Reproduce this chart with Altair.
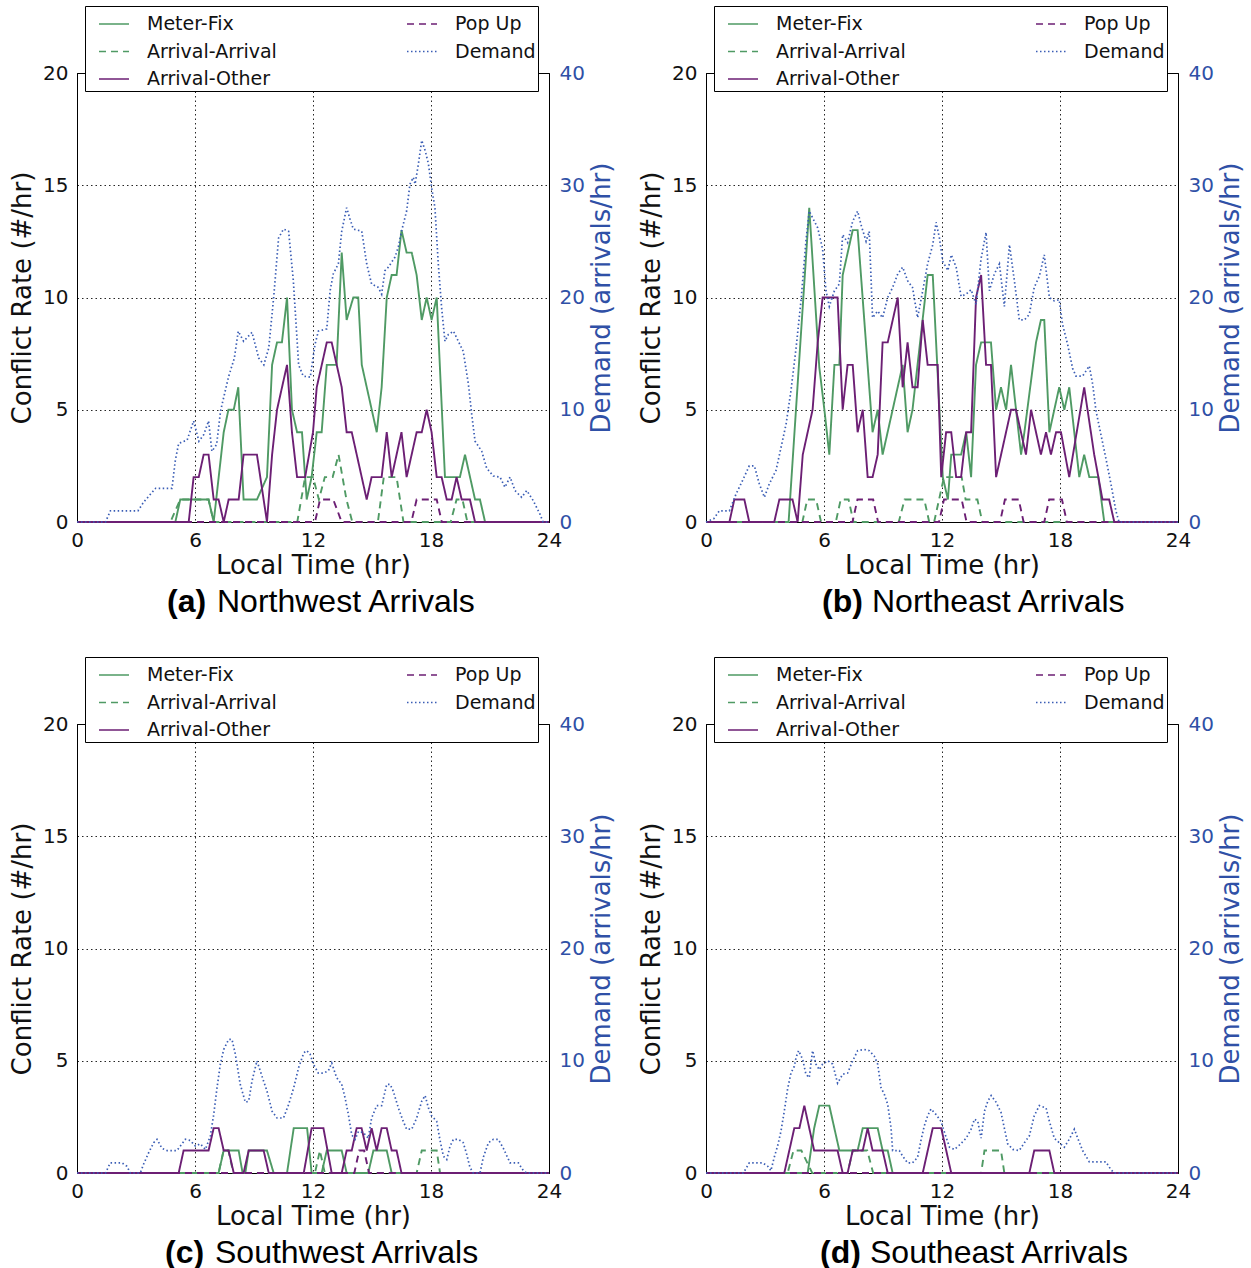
import altair as alt
import pandas as pd

# ---------------- data (hour, value) ----------------
A_MF = [(0,0),(5.0,0),(5.25,1),(6.69,1),(6.95,0),(7.46,4),(7.7,5),(7.97,5),(8.2,6),(8.47,1),(9.15,1),(9.66,2),(9.92,7),(10.17,8),(10.42,8),(10.68,10),(10.93,5),(11.19,4),(11.44,4),(11.68,1),(11.93,2),(12.19,4),(12.44,4),(12.7,7),(13.2,7),(13.46,12),(13.71,9),(14.05,10),(14.3,10),(14.48,7),(15.24,4),(15.49,6),(15.75,10),(16.0,11),(16.25,11),(16.5,13),(16.76,12),(17.02,12),(17.27,11),(17.53,9),(17.78,10),(18.03,9),(18.29,10),(18.71,2),(19.47,2),(19.73,3),(20.24,1),(20.49,1),(20.75,0),(24,0)]
A_AA = [(0,0),(4.75,0),(5.25,1),(6.69,1),(6.95,0),(11.2,0),(11.6,2),(12.0,2),(12.3,1),(12.6,2),(13.0,2),(13.3,3),(13.7,1),(14.0,0),(15.3,0),(15.6,2),(16.25,2),(16.6,0),(19.0,0),(19.3,1),(19.6,1),(19.85,0),(24,0)]
A_AO = [(0,0),(5.68,0),(5.93,2),(6.19,2),(6.44,3),(6.69,3),(6.95,1),(7.2,1),(7.46,0),(7.71,1),(8.22,1),(8.47,3),(9.15,3),(9.66,0),(9.92,3),(10.17,5),(10.68,7),(10.93,4),(11.19,2),(11.6,2),(12.0,4),(12.19,6),(12.7,8),(12.95,8),(13.46,6),(13.71,4),(13.97,4),(14.73,1),(14.98,2),(15.49,2),(15.75,4),(16.0,2),(16.5,4),(16.76,2),(17.27,4),(17.53,4),(17.78,5),(18.03,4),(18.29,2),(18.54,2),(18.8,1),(19.05,1),(19.3,2),(19.56,1),(19.98,1),(20.24,0),(24,0)]
A_PU = [(0,0),(12.1,0),(12.36,1),(13.03,1),(13.46,0),(17.0,0),(17.27,1),(18.29,1),(18.55,0),(24,0)]
A_DEM = [(0,0),(1.45,0),(1.7,1),(3.1,1),(3.4,1.8),(3.65,2.3),(4.0,3),(4.83,3),(5.0,5.5),(5.17,7),(5.6,7.3),(5.93,9),(6.2,7.2),(6.45,7.8),(6.69,9),(6.86,6.3),(7.1,6.9),(7.3,9.9),(7.5,11.4),(7.7,12.9),(8.0,14.6),(8.2,17),(8.47,16.1),(8.9,16.9),(9.24,14.6),(9.5,14),(9.75,15.5),(10.0,20),(10.25,25.3),(10.5,26.1),(10.76,25.9),(11.0,21.5),(11.27,14),(11.5,13),(11.86,12.9),(12.1,15.8),(12.27,17),(12.7,17.2),(12.87,20.6),(13.03,22.1),(13.29,23),(13.46,25.9),(13.71,28),(13.88,27),(14.05,26.1),(14.48,25.9),(14.73,23),(14.98,21.2),(15.32,20.9),(15.49,20.3),(15.66,22.4),(15.83,22.7),(16.17,23.6),(16.34,24.5),(16.5,25.9),(16.76,27.7),(16.93,30.1),(17.1,30.7),(17.19,30.1),(17.36,31.9),(17.53,34),(17.7,33.1),(17.87,31.9),(18.03,29.8),(18.2,28),(18.37,23),(18.54,19.1),(18.71,16.1),(18.88,16.7),(19.14,17),(19.39,16.1),(19.64,15.2),(19.9,12.3),(20.07,9.6),(20.24,7.2),(20.58,6.3),(20.83,4.8),(21.17,4.1),(21.51,4),(21.76,3.1),(22.02,4),(22.27,2.8),(22.61,2.2),(22.87,2.8),(23.2,1.9),(23.54,0.7),(23.7,0),(24,0)]

B_MF = [(0,0),(4.2,0),(5.25,14),(5.76,6.9),(6.02,5),(6.27,3),(6.53,7),(6.78,7),(6.95,11),(7.46,13),(7.71,13),(8.47,4),(8.73,5),(8.98,3),(10.0,7),(10.25,4),(10.5,5),(11.27,11),(11.53,11),(12.04,2),(12.3,1),(12.47,3),(12.97,3),(13.23,4),(13.48,2),(13.73,7),(13.99,8),(14.49,8),(14.75,5),(15.0,6),(15.26,5),(15.51,7),(16.02,3),(16.19,4),(16.78,8),(17.03,9),(17.2,9),(17.46,4),(17.71,5),(17.96,6),(18.22,5),(18.47,6),(18.98,2),(19.23,3),(19.49,2),(19.95,2),(20.25,0),(24,0)]
B_AA = [(0,0),(4.9,0),(5.15,1),(5.6,1),(5.85,0),(6.6,0),(6.85,1),(7.25,1),(7.5,0),(9.8,0),(10.1,1),(11.1,1),(11.35,0),(11.6,0),(11.85,1),(12.1,2),(13.0,2),(13.2,1),(13.8,1),(14.05,0),(24,0)]
B_AO = [(0,0),(1.19,0),(1.44,1),(1.95,1),(2.2,0),(3.47,0),(3.73,1),(4.4,1),(4.66,0),(4.92,3),(5.42,5),(5.68,8),(5.93,10),(6.69,10),(6.95,5),(7.2,7),(7.46,7),(7.71,4),(7.97,5),(8.22,2),(8.47,2),(8.73,3),(8.98,8),(9.24,8),(9.75,10),(10.0,6),(10.25,8),(10.5,6),(10.76,6),(11.02,9),(11.27,7),(11.78,7),(11.96,2),(12.21,4),(12.47,4),(12.72,2),(12.97,2),(13.23,4),(13.48,4),(13.73,10),(13.99,11),(14.24,7),(14.49,7),(14.75,2),(15.51,5),(15.76,5),(16.27,3),(16.53,5),(17.03,3),(17.29,4),(17.54,3),(17.8,4),(18.05,4),(18.47,2),(19.23,6),(19.74,3),(20.16,1),(20.5,1),(20.76,0),(24,0)]
B_PU = [(0,0),(7.45,0),(7.7,1),(8.5,1),(8.75,0),(11.85,0),(12.1,1),(13.0,1),(13.25,0),(14.95,0),(15.2,1),(15.9,1),(16.15,0),(17.2,0),(17.45,1),(18.1,1),(18.35,0),(24,0)]
B_DEM = [(0,0),(0.4,0.3),(0.68,1.0),(1.19,1.0),(1.53,2.5),(1.86,3.7),(2.2,5.0),(2.46,5.0),(2.71,3.4),(2.97,2.2),(3.22,3.4),(3.56,4.6),(3.81,6.6),(4.07,8.7),(4.32,11.7),(4.58,15.5),(4.83,19.7),(5.08,25.0),(5.25,27.7),(5.42,27.1),(5.68,26.2),(5.93,24.3),(6.1,20.6),(6.27,19.2),(6.53,20.6),(6.78,21.2),(6.95,25.6),(7.2,24.9),(7.46,26.8),(7.71,27.7),(7.88,26.5),(8.14,25.0),(8.3,25.9),(8.47,18.2),(8.73,18.8),(8.98,18.2),(9.24,20.0),(9.49,20.9),(9.75,22.1),(10.0,22.7),(10.25,21.5),(10.5,20.9),(10.76,18.2),(11.02,20.6),(11.27,23.0),(11.53,24.7),(11.7,26.7),(11.87,25.3),(12.04,23.2),(12.3,22.4),(12.47,23.8),(12.72,22.7),(12.97,20.1),(13.23,20.3),(13.48,20.7),(13.73,19.4),(13.99,23.5),(14.24,25.8),(14.41,20.6),(14.66,22.1),(14.92,23.0),(15.17,19.2),(15.43,24.7),(15.68,21.5),(15.93,18.0),(16.19,18.0),(16.44,18.5),(16.69,20.9),(16.95,21.9),(17.2,23.8),(17.46,20.0),(17.71,19.7),(17.96,19.8),(18.13,17.6),(18.39,15.8),(18.64,13.7),(18.81,13.0),(19.15,13.0),(19.49,13.9),(19.66,12.3),(19.83,9.9),(20.08,7.8),(20.33,5.7),(20.59,3.4),(20.84,1.0),(21.0,0),(24,0)]

C_MF = [(0,0),(7.2,0),(7.46,1),(8.22,1),(8.42,0),(8.56,0),(8.73,1),(9.66,1),(10.0,0),(10.68,0),(11.02,2),(11.7,2),(11.93,0),(12.44,0),(12.7,1),(13.46,1),(13.71,0),(14.81,0),(15.07,1),(15.75,1),(16.0,0),(24,0)]
C_AA = [(0,0),(7.2,0),(7.45,1),(7.7,1),(7.95,0),(12.1,0),(12.35,1),(12.6,0),(17.27,0),(17.53,1),(18.29,1),(18.46,0),(24,0)]
C_AO = [(0,0),(5.17,0),(5.42,1),(6.69,1),(6.95,2),(7.2,2),(7.46,1),(7.71,1),(7.97,0),(8.47,0),(8.73,1),(9.49,1),(9.75,0),(11.53,0),(11.93,2),(12.53,2),(12.95,0),(13.46,0),(13.71,1),(13.97,1),(14.22,2),(14.47,2),(14.73,1),(14.98,2),(15.24,1),(15.49,2),(15.75,2),(16.0,1),(16.25,1),(16.5,0),(24,0)]
C_PU = [(0,0),(14.1,0),(14.35,1),(14.6,1),(14.85,0),(24,0)]
C_DEM = [(0,0),(1.45,0),(1.69,0.9),(2.29,0.9),(2.54,0.6),(2.71,0),(3.22,0),(3.39,0.8),(3.64,1.8),(3.9,2.7),(4.07,3.0),(4.32,2.2),(4.58,2.0),(5.08,2.0),(5.34,2.6),(5.51,3.0),(5.76,2.9),(6.02,2.4),(6.27,2.6),(6.53,2.1),(6.78,3.3),(6.95,5.2),(7.12,7.6),(7.29,9.7),(7.46,11.0),(7.71,11.9),(7.88,11.9),(8.05,10.6),(8.3,7.9),(8.56,6.3),(8.73,6.4),(8.9,8.2),(9.15,10.0),(9.41,8.6),(9.66,7.3),(9.92,5.5),(10.17,4.9),(10.5,4.9),(10.76,6.1),(11.02,7.6),(11.27,9.4),(11.53,10.7),(11.68,10.9),(11.85,10.6),(12.02,9.7),(12.27,8.9),(12.53,8.9),(12.78,9.1),(12.95,9.8),(13.2,8.5),(13.46,7.9),(13.63,6.7),(13.8,5.2),(13.97,3.4),(14.14,3.0),(14.31,3.7),(14.56,3.6),(14.81,3.1),(14.98,4.9),(15.24,6.0),(15.49,6.0),(15.75,7.9),(15.92,7.9),(16.08,7.3),(16.34,5.8),(16.59,4.6),(16.76,3.9),(17.02,3.9),(17.27,4.9),(17.53,6.4),(17.7,6.9),(17.87,5.8),(18.03,5.1),(18.29,4.6),(18.46,2.9),(18.63,1.5),(18.8,1.2),(18.97,2.4),(19.14,3.0),(19.39,3.0),(19.64,2.7),(19.81,1.7),(19.98,0.5),(20.15,0),(20.49,0),(20.66,1.4),(20.92,2.7),(21.17,3.0),(21.42,3.0),(21.68,2.2),(22.02,0.9),(22.44,0.9),(22.7,0.2),(22.87,0),(24,0)]

D_MF = [(0,0),(5.17,0),(5.5,2),(5.76,3),(6.27,3),(6.78,1),(7.71,1),(7.97,2),(8.73,2),(8.98,1),(9.24,1),(9.49,0),(24,0)]
D_AA = [(0,0),(4.15,0),(4.45,1),(4.85,1),(5.4,0),(7.2,0),(7.46,1),(8.2,1),(8.5,0),(13.99,0),(14.16,1),(15.0,1),(15.17,0),(24,0)]
D_AO = [(0,0),(3.98,0),(4.49,2),(4.75,2),(5.0,3),(5.5,1),(6.69,1),(6.95,0),(7.2,0),(7.46,1),(7.97,1),(8.22,2),(8.47,1),(8.98,1),(9.24,0),(11.02,0),(11.53,2),(11.96,2),(12.47,0),(16.44,0),(16.69,1),(17.46,1),(17.71,0),(24,0)]
D_PU = [(0,0),(24,0)]
D_DEM = [(0,0),(1.9,0),(2.2,0.9),(2.88,0.9),(3.14,0.6),(3.3,0.2),(3.47,1.4),(3.64,2.4),(3.81,3.7),(3.98,5.5),(4.15,7.5),(4.32,8.9),(4.49,9.5),(4.58,10.3),(4.71,10.9),(4.92,10.1),(5.08,8.8),(5.25,8.5),(5.42,10.9),(5.59,9.7),(5.76,9.2),(5.93,9.7),(6.19,10.0),(6.44,9.7),(6.69,8.0),(6.95,8.8),(7.2,8.9),(7.46,10.0),(7.71,10.9),(8.05,11.0),(8.3,10.9),(8.56,10.4),(8.73,9.7),(8.9,7.6),(9.07,7.0),(9.24,6.1),(9.41,4.0),(9.49,2.0),(9.83,2.0),(10.0,1.5),(10.25,0.9),(10.5,0.9),(10.76,1.4),(10.93,2.9),(11.1,4.2),(11.27,5.1),(11.44,5.7),(11.7,5.2),(11.95,4.6),(12.13,3.6),(12.38,2.3),(12.63,2.1),(12.89,2.5),(13.23,3.1),(13.48,3.9),(13.65,4.8),(13.82,4.6),(13.99,3.1),(14.16,5.5),(14.33,6.4),(14.5,6.9),(14.75,6.3),(15.0,5.4),(15.17,4.0),(15.34,2.6),(15.6,2.1),(15.93,2.0),(16.19,2.7),(16.44,3.3),(16.69,5.1),(16.95,6.0),(17.29,5.8),(17.46,4.6),(17.71,3.1),(17.96,2.7),(18.22,2.3),(18.47,3.0),(18.73,3.9),(18.9,3.1),(19.15,2.0),(19.49,1.0),(20.33,1.0),(20.59,0.3),(20.76,0),(24,0)]

# legend fills column by column: Meter-Fix, Arrival-Arrival, Arrival-Other | Pop Up, Demand
SERIES = ["Meter-Fix", "Arrival-Arrival", "Arrival-Other", "Pop Up", "Demand"]
COLORS = ["#4f9a64", "#4f9a64", "#6c1f74", "#6c1f74", "#3a5db5"]
DASHES = [[1, 0], [7, 5], [1, 0], [7, 5], [1.5, 2.5]]

X_TICKS = [0, 6, 12, 18, 24]
LEFT_TICKS = [0, 5, 10, 15, 20]
RIGHT_TICKS = [0, 10, 20, 30, 40]

PANELS = [
    ("(a)", "Northwest Arrivals", 90, {"Meter-Fix": A_MF, "Arrival-Arrival": A_AA, "Arrival-Other": A_AO, "Pop Up": A_PU, "Demand": A_DEM}),
    ("(b)", "Northeast Arrivals", 116, {"Meter-Fix": B_MF, "Arrival-Arrival": B_AA, "Arrival-Other": B_AO, "Pop Up": B_PU, "Demand": B_DEM}),
    ("(c)", "Southwest Arrivals", 88, {"Meter-Fix": C_MF, "Arrival-Arrival": C_AA, "Arrival-Other": C_AO, "Pop Up": C_PU, "Demand": C_DEM}),
    ("(d)", "Southeast Arrivals", 114, {"Meter-Fix": D_MF, "Arrival-Arrival": D_AA, "Arrival-Other": D_AO, "Pop Up": D_PU, "Demand": D_DEM}),
]

W, H = 472, 449
AXIS_BLUE = "#2f50a6"
LW = 1.9


def legend():
    return alt.Legend(
        title=None, orient="none", legendX=8, legendY=-67, columns=2,
        symbolType="stroke", symbolSize=900, symbolStrokeWidth=1.6,
        labelFont="DejaVu Sans", labelFontSize=19, labelColor="#111111",
        rowPadding=1.5, columnPadding=118, padding=2, symbolOffset=11,
        labelOffset=17, labelLimit=400, strokeColor="black", fillColor="white",
        cornerRadius=0,
    )


def panel(letter, name, cap_x, series):
    rows = []
    for s in ["Meter-Fix", "Arrival-Arrival", "Arrival-Other", "Pop Up"]:
        rows += [{"t": t, "v": v, "series": s} for t, v in series[s]]
    conf = pd.DataFrame(rows)
    dem = pd.DataFrame([{"t": t, "v": v, "series": "Demand"} for t, v in series["Demand"]])

    x = alt.X("t:Q", scale=alt.Scale(domain=[0, 24], nice=False),
              axis=alt.Axis(values=X_TICKS, title="Local Time (hr)", grid=True,
                            labelPadding=8, titlePadding=2, format="d"))
    color = alt.Color("series:N", scale=alt.Scale(domain=SERIES, range=COLORS), legend=legend())
    dash = alt.StrokeDash("series:N", scale=alt.Scale(domain=SERIES, range=DASHES), legend=legend())

    left = alt.Chart(conf).mark_line(strokeWidth=LW).encode(
        x=x,
        y=alt.Y("v:Q", scale=alt.Scale(domain=[0, 20], nice=False),
                axis=alt.Axis(values=LEFT_TICKS, title="Conflict Rate (#/hr)", grid=True,
                              labelPadding=9, titlePadding=7)),
        color=color, strokeDash=dash, detail="series:N",
    )
    right = alt.Chart(dem).mark_line(strokeWidth=1.7).encode(
        x=x,
        y=alt.Y("v:Q", scale=alt.Scale(domain=[0, 40], nice=False),
                axis=alt.Axis(values=RIGHT_TICKS, orient="right", title="Demand (arrivals/hr)",
                              grid=False, labelColor=AXIS_BLUE, titleColor=AXIS_BLUE,
                              labelPadding=10, titlePadding=4, titleAngle=270,
                              titleBaseline="top")),
        color=color, strokeDash=dash,
    )
    cap1 = alt.Chart(pd.DataFrame({"c": [letter]})).mark_text(
        font="Liberation Sans", fontSize=32, fontWeight="bold", align="left",
        baseline="alphabetic", color="black").encode(
        x=alt.value(cap_x), y=alt.value(539), text="c:N")
    cap2 = alt.Chart(pd.DataFrame({"c": [name]})).mark_text(
        font="Liberation Sans", fontSize=32, align="left",
        baseline="alphabetic", color="black").encode(
        x=alt.value(cap_x + 50), y=alt.value(539), text="c:N")
    return alt.layer(left, right, cap1, cap2).resolve_scale(y="independent").properties(width=W, height=H)


charts = [panel(*p) for p in PANELS]
chart = alt.concat(
    *charts, columns=2, spacing={"row": 202, "column": 157}, bounds="flush"
).resolve_scale(
    color="independent", strokeDash="independent"
).properties(
    padding={"left": 9, "top": 5, "right": 5, "bottom": 5},
    background="white",
).configure_view(
    stroke="black", strokeWidth=1
).configure_axis(
    labelFont="DejaVu Sans", titleFont="DejaVu Sans", labelFontSize=20, titleFontSize=26,
    titleFontWeight="normal", labelColor="#111111", titleColor="#111111",
    domainColor="black", domainWidth=1, tickSize=0, ticks=False, labelFlush=False,
    gridColor="black", gridDash=[1.5, 3], gridOpacity=0.85, gridWidth=1,
)

chart.save("out.html", embed_options={"renderer": "svg", "actions": False})
